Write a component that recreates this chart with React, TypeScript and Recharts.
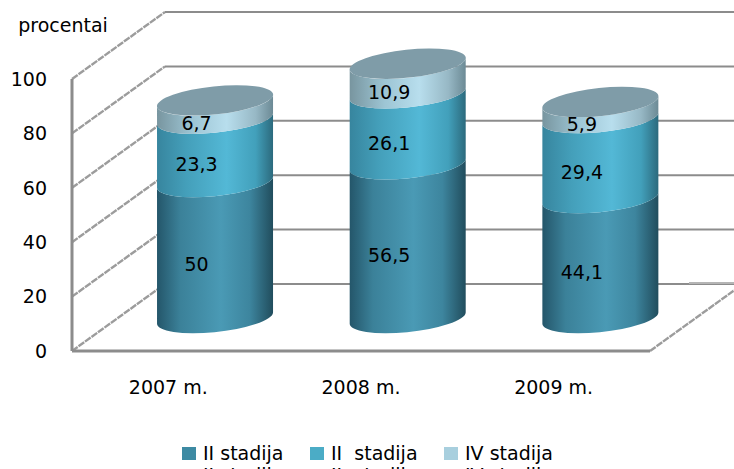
import React from 'react';
import {
  Bar,
  CartesianGrid,
  ComposedChart,
  LabelList,
  Legend,
  XAxis,
  YAxis,
} from 'recharts';

const years = ['2007 m.', '2008 m.', '2009 m.'];
const stageTwo = [50, 56.5, 44.1];
const stageThree = [23.3, 26.1, 29.4];
const stageFour = [6.7, 10.9, 5.9];
const yTicks = [0, 20, 40, 60, 80, 100];
const seriesNames = ['II stadija', 'II  stadija', 'IV stadija'];

const rows = years.map((year, i) => ({
  year,
  two: stageTwo[i],
  three: stageThree[i],
  four: stageFour[i],
}));

const FONT = '"DejaVu Sans", sans-serif';
const GRID = '#8c8c8c';
const DIAGONAL = '#9c9c9c';

// Oblique projection of the box: back wall offset, and half of it for the cylinders.
const WALL_DX = 93;
const WALL_DY = -67;
const CYL_DX = 46.5;
const CYL_DY = -33;
const LABEL_DX = 28;
const LABEL_DY = -19;

// Cylinder end caps are ellipses tilted slightly upward to the right.
const CAP_RY = 14;
const TILT_DEG = -6;
const EDGE_RISE = 5.6;

type SegmentProps = { x: number; y: number; width: number; height: number };

const cylinderSegment = (fillId: string, withCap: boolean) => (props: SegmentProps) => {
  const { x, y, width, height } = props;
  const left = x + CYL_DX;
  const right = left + width;
  const top = y + CYL_DY;
  const bottom = top + height;
  const rx = width / 2;
  const side =
    `M${left} ${bottom + EDGE_RISE}` +
    `A${rx} ${CAP_RY} ${TILT_DEG} 0 0 ${right} ${bottom - EDGE_RISE}` +
    `L${right} ${top - EDGE_RISE}` +
    `A${rx} ${CAP_RY} ${TILT_DEG} 0 1 ${left} ${top + EDGE_RISE}Z`;
  return (
    <g>
      <path d={side} fill={`url(#${fillId})`} />
      {withCap && (
        <ellipse
          cx={left + rx}
          cy={top}
          rx={rx + 0.4}
          ry={CAP_RY}
          fill="#7f9ca8"
          transform={`rotate(${TILT_DEG} ${left + rx} ${top})`}
        />
      )}
    </g>
  );
};

// Horizontal grid values become a diagonal on the side wall plus a line on the back wall.
const wallLine = (props: any) => {
  const { x1, x2, y1 } = props;
  const isFloor = Math.abs(y1 - 351) < 1;
  return (
    <g key={`wall-${y1}`}>
      <line x1={x1} y1={y1} x2={x1 + WALL_DX} y2={y1 + WALL_DY} stroke={DIAGONAL} strokeWidth={2.4} strokeDasharray="7 1" />
      <line x1={x1 + WALL_DX} y1={y1 + WALL_DY} x2={x2 + WALL_DX} y2={y1 + WALL_DY} stroke={GRID} strokeWidth={2} />
      {isFloor && (
        <>
          <line x1={x2} y1={y1} x2={x2 + WALL_DX} y2={y1 + WALL_DY} stroke={DIAGONAL} strokeWidth={2.4} strokeDasharray="7 1" />
          <line x1={x2 + 39} y1={y1 + WALL_DY - 1} x2={x2 + WALL_DX} y2={y1 + WALL_DY - 1} stroke="#b5b5b5" strokeWidth={2} />
        </>
      )}
    </g>
  );
};

const decimalComma = (value: any) => String(value).replace('.', ',');

const legendLefts = [182, 310, 444];

const legendRow = (payload: any[], top: number) =>
  payload.map((entry, i) => (
    <div
      key={`${top}-${entry.value}`}
      style={{ position: 'absolute', left: legendLefts[i], top, display: 'flex', alignItems: 'center', whiteSpace: 'pre' }}
    >
      <span style={{ width: 14, height: 13, background: entry.color, display: 'inline-block', marginRight: 7 }} />
      <span style={{ fontFamily: FONT, fontSize: 19, lineHeight: '20px', color: '#000' }}>{entry.value}</span>
    </div>
  ));

// The legend is set twice; the second row runs off the bottom of the frame.
const renderLegend = (props: any) => (
  <div style={{ position: 'absolute', left: 0, top: 0, width: 734, height: 469, overflow: 'hidden' }}>
    {legendRow(props.payload ?? [], 443)}
    {legendRow(props.payload ?? [], 465)}
  </div>
);

const labelStyle = { fontFamily: FONT, fontSize: 19, fill: '#000' };

export default function App() {
  return (
    <div style={{ position: 'absolute', left: 0, top: 0, width: 734, height: 469, overflow: 'hidden', background: '#fff' }}>
      <ComposedChart
        width={734}
        height={469}
        data={rows}
        margin={{ top: 79, right: 84, bottom: 88, left: 0 }}
        barCategoryGap="20%"
      >
        <defs>
          <linearGradient id="cylTwo" x1="0" y1="0" x2="1" y2="0">
            <stop offset="0" stopColor="#24566a" />
            <stop offset="0.2" stopColor="#3b8199" />
            <stop offset="0.55" stopColor="#4a9ab5" />
            <stop offset="0.8" stopColor="#3d859e" />
            <stop offset="1" stopColor="#214d5d" />
          </linearGradient>
          <linearGradient id="cylThree" x1="0" y1="0" x2="1" y2="0">
            <stop offset="0" stopColor="#37859e" />
            <stop offset="0.25" stopColor="#449fba" />
            <stop offset="0.6" stopColor="#53b8d6" />
            <stop offset="0.85" stopColor="#42a0bb" />
            <stop offset="1" stopColor="#2c6a7d" />
          </linearGradient>
          <linearGradient id="cylFour" x1="0" y1="0" x2="1" y2="0">
            <stop offset="0" stopColor="#78959f" />
            <stop offset="0.3" stopColor="#9dc5d4" />
            <stop offset="0.6" stopColor="#b8deed" />
            <stop offset="0.85" stopColor="#97b8c5" />
            <stop offset="1" stopColor="#6c8a95" />
          </linearGradient>
        </defs>
        <CartesianGrid vertical={false} horizontal={wallLine} />
        <XAxis
          dataKey="year"
          height={30}
          tickLine={false}
          axisLine={{ stroke: GRID, strokeWidth: 3 }}
          tick={{ fontFamily: FONT, fontSize: 19, fill: '#000' }}
          tickMargin={24}
        />
        <YAxis
          width={72}
          domain={[0, 100]}
          ticks={yTicks}
          tickLine={false}
          axisLine={{ stroke: GRID, strokeWidth: 3 }}
          tick={{ fontFamily: FONT, fontSize: 19, fill: '#000' }}
          tickMargin={19}
          label={{ value: 'procentai', position: 'top', dx: 27, offset: 47, style: labelStyle }}
        />
        <Legend
          content={renderLegend}
          height={0}
          itemSorter={null}
          wrapperStyle={{ position: 'absolute', left: 0, top: 0, bottom: 'auto', width: 734, height: 0 }}
        />
        <Bar
          dataKey="two"
          name={seriesNames[0]}
          stackId="stage"
          fill="#3d8aa3"
          shape={cylinderSegment('cylTwo', false)}
          isAnimationActive={false}
        >
          <LabelList dataKey="two" position="center" dx={LABEL_DX} dy={LABEL_DY} formatter={decimalComma} style={labelStyle} />
        </Bar>
        <Bar
          dataKey="three"
          name={seriesNames[1]}
          stackId="stage"
          fill="#4bacc6"
          shape={cylinderSegment('cylThree', false)}
          isAnimationActive={false}
        >
          <LabelList dataKey="three" position="center" dx={LABEL_DX} dy={LABEL_DY} formatter={decimalComma} style={labelStyle} />
        </Bar>
        <Bar
          dataKey="four"
          name={seriesNames[2]}
          stackId="stage"
          fill="#a8cfde"
          shape={cylinderSegment('cylFour', true)}
          isAnimationActive={false}
        >
          <LabelList dataKey="four" position="center" dx={LABEL_DX} dy={LABEL_DY} formatter={decimalComma} style={labelStyle} />
        </Bar>
      </ComposedChart>
    </div>
  );
}
